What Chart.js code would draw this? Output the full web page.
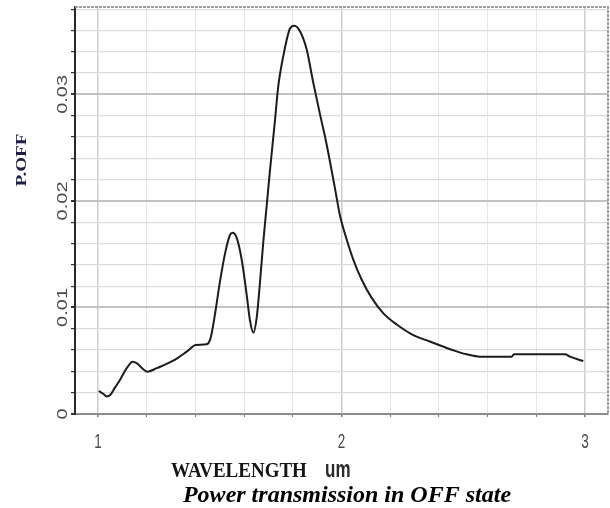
<!DOCTYPE html>
<html>
<head>
<meta charset="utf-8">
<title>Power transmission in OFF state</title>
<script src="https://cdn.jsdelivr.net/npm/chart.js"></script>
<style>
  body { margin: 0; background: #ffffff; }
  #wrap { width: 610px; height: 508px; }
</style>
</head>
<body>
<div id="wrap"><canvas id="myChart" width="610" height="508"></canvas></div>
<script>
//////////////////////////////
/////////Data to Chart////////
//////////////////////////////

// Wavelength (um)
var wavelength = [1.003, 1.02, 1.036, 1.05, 1.07, 1.09, 1.118, 1.142, 1.16, 1.186,
  1.203, 1.241, 1.309, 1.364, 1.402, 1.446, 1.462, 1.48, 1.50, 1.522,
  1.542, 1.553, 1.57, 1.59, 1.61, 1.624, 1.638, 1.652, 1.665, 1.679,
  1.706, 1.727, 1.74, 1.761, 1.789, 1.806, 1.83, 1.857, 1.884, 1.912,
  1.939, 1.973, 1.994, 2.021, 2.048, 2.083, 2.124, 2.172, 2.227, 2.295,
  2.363, 2.432, 2.47, 2.514, 2.569, 2.699, 2.708, 2.918, 2.938, 2.993];
// P.OFF at each wavelength
var pOff = [0.00216, 0.00192, 0.00165, 0.00178, 0.0025, 0.0032, 0.0043, 0.0049, 0.00475, 0.0042,
  0.00397, 0.0043, 0.0050, 0.00585, 0.00648, 0.00654, 0.0071, 0.0093, 0.0123, 0.0151,
  0.0168, 0.0170, 0.0165, 0.0145, 0.0113, 0.0088, 0.00764, 0.0091, 0.0123, 0.0162,
  0.0228, 0.0276, 0.0307, 0.0336, 0.0362, 0.03645, 0.0359, 0.0342, 0.0311, 0.0281,
  0.0253, 0.0212, 0.0186, 0.0164, 0.01452, 0.0126, 0.0109, 0.00945, 0.0084, 0.0074,
  0.0068, 0.0062, 0.0059, 0.0056, 0.00538, 0.00538, 0.0056, 0.0056, 0.00538, 0.00497];

// Tick labels
var xTickValues = [1, 2, 3];
var xTickLabels = ['1', '2', '3'];
var yTickValues = [0, 0.01, 0.02, 0.03];
var yTickLabels = ['0', '0.01', '0.02', '0.03'];

// Axis titles and caption
var yTitle = 'P.OFF';
var xTitle = 'WAVELENGTH';
var xUnit = 'um';
var caption = 'Power transmission in OFF state';

// Build the {x, y} points for the line
var points = [];
for (let i = 0; i < wavelength.length; i++) {
  points.push({ x: wavelength[i], y: pOff[i] });
}

// true when v sits on a multiple of step
function onStep(v, step) {
  return Math.abs(v / step - Math.round(v / step)) < 1e-6;
}

// Draw one piece of text, optionally rotated and stretched
function drawLabel(ctx, str, x, y, o) {
  ctx.save();
  ctx.translate(x, y);
  if (o.rotate) ctx.rotate(o.rotate);
  ctx.scale(o.sx || 1, o.sy || 1);
  ctx.font = o.font;
  ctx.fillStyle = o.color;
  ctx.textAlign = o.align || 'center';
  ctx.textBaseline = o.baseline || 'middle';
  ctx.fillText(str, 0, 0);
  ctx.restore();
}

// Dashed frame on top and right, like the original plot box
var framePlugin = {
  id: 'frame',
  afterDraw: function (chart) {
    var ctx = chart.ctx;
    var a = chart.chartArea;
    ctx.save();
    ctx.strokeStyle = '#9c9c9c';
    ctx.lineWidth = 2;
    ctx.setLineDash([3, 1]);
    ctx.beginPath();
    ctx.moveTo(a.left, a.top);
    ctx.lineTo(a.right, a.top);
    ctx.lineTo(a.right, a.bottom);
    ctx.stroke();
    ctx.restore();
  }
};

// Tick labels, axis titles and caption
var textPlugin = {
  id: 'texts',
  afterDraw: function (chart) {
    var ctx = chart.ctx;
    var xs = chart.scales.x;
    var ys = chart.scales.y;

    // y tick labels, rotated
    yTickValues.forEach(function (v, i) {
      drawLabel(ctx, yTickLabels[i], 63, ys.getPixelForValue(v), {
        rotate: -Math.PI / 2, sx: 1.43, font: '14px "Liberation Sans"', color: '#4a4a4a'
      });
    });
    // x tick labels
    xTickValues.forEach(function (v, i) {
      drawLabel(ctx, xTickLabels[i], xs.getPixelForValue(v), 442, {
        sy: 1.55, font: '13.5px "Liberation Sans"', color: '#4a4a4a'
      });
    });

    // y title
    drawLabel(ctx, yTitle, 22, 160, {
      rotate: -Math.PI / 2, sx: 1.28, font: 'bold 15px "Liberation Serif"', color: '#1e1e46'
    });
    // x title: serif word + sans unit
    drawLabel(ctx, xTitle, 171, 477, {
      sy: 1.1, align: 'left', baseline: 'alphabetic', font: 'bold 19px "Liberation Serif"', color: '#151515'
    });
    drawLabel(ctx, xUnit, 325, 477, {
      sy: 1.45, align: 'left', baseline: 'alphabetic', font: 'bold 17px "Liberation Sans"', color: '#2a2a2a'
    });
    // caption
    drawLabel(ctx, caption, 347, 502, {
      align: 'center', baseline: 'alphabetic', font: 'bold italic 24px "Liberation Serif"', color: '#000000'
    });
  }
};

var myChart = new Chart(
  document.getElementById('myChart'),
  {
    // Line chart on a linear x axis
    type: 'line',
    data: {
      datasets: [
        {
          label: 'P.OFF',
          data: points,
          borderColor: '#1c1c1c',
          borderWidth: 2,
          pointRadius: 0,
          fill: false,
          cubicInterpolationMode: 'monotone'
        }
      ]
    },
    options: {
      responsive: false,
      animation: false,
      layout: { padding: { top: 7, right: 2, left: 0, bottom: 0 } },
      scales: {
        x: {
          type: 'linear',
          min: 0.9055,
          max: 3.0945,
          afterFit: function (s) { s.height = 94; },
          ticks: { display: false, stepSize: 0.2, includeBounds: false },
          grid: {
            color: (c) => onStep(c.tick.value, 1) ? '#cdcdcd' : '#e6e6e6',
            lineWidth: (c) => onStep(c.tick.value, 1) ? 1.5 : 1,
            tickColor: '#7a7a7a',
            tickLength: 3
          },
          border: { color: '#8c8c8c', width: 2 }
        },
        y: {
          min: 0,
          max: 0.0382,
          afterFit: function (s) { s.width = 75; },
          ticks: { display: false, stepSize: 0.002, includeBounds: false },
          grid: {
            color: (c) => onStep(c.tick.value, 0.01) ? '#c2c2c2' : '#dcdcdc',
            lineWidth: (c) => onStep(c.tick.value, 0.01) ? 2 : 1.2,
            tickColor: '#333333',
            tickLength: 4
          },
          border: { color: '#2a2a2a', width: 2 }
        }
      },
      plugins: {
        legend: { display: false },
        tooltip: { enabled: false }
      }
    },
    plugins: [framePlugin, textPlugin]
  }
);
</script>
</body>
</html>
